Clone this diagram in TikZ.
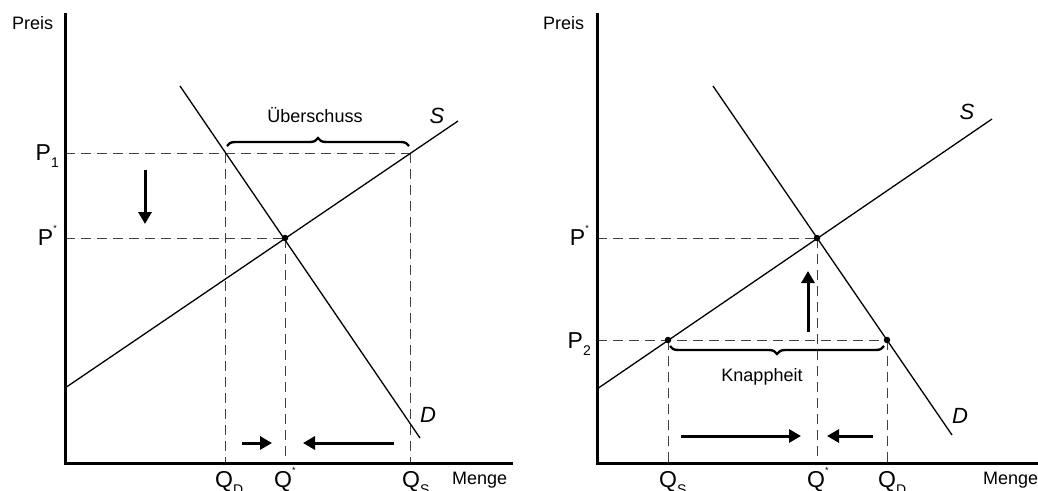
\documentclass[tikz,border=0pt]{standalone}
\usepackage{fontspec}
\setmainfont{Liberation Sans}
\usetikzlibrary{arrows.meta,decorations.pathreplacing}
\newcommand{\lowsub}[1]{\raisebox{-0.6ex}{\fontsize{14}{14}\selectfont #1}}
\newcommand{\starsup}{\raisebox{1.1ex}{\fontsize{9}{9}\selectfont *}}
\tikzset{
  axis/.style={line width=3pt},
  curve/.style={line width=1.3pt},
  guide/.style={line width=1pt, black!75, dash pattern=on 10pt off 6pt},
  bigarrow/.style={line width=3pt, -{Triangle[length=12pt,width=13pt]}},
  bracestyle/.style={line width=2.4pt, decorate, decoration={brace, amplitude=8pt}},
  dot/.style={circle, fill=black, inner sep=0pt, minimum size=6.5pt},
  lbl/.style={inner sep=0pt, font=\fontsize{18}{20}\selectfont},
  biglbl/.style={inner sep=0pt, font=\fontsize{23}{26}\selectfont},
  curvelbl/.style={inner sep=0pt, font=\fontsize{22}{24}\selectfont\itshape}
}
\begin{document}
\begin{tikzpicture}[x=1pt,y=-1pt]
\useasboundingbox (0,0) rectangle (1038,490);
% ---------- left panel ----------
\coordinate (LO) at (65,463);
\coordinate (Ltop) at (65,13);
\coordinate (Lxend) at (513,463);
\coordinate (Ls1) at (65,388);
\coordinate (Ls2) at (458,121);
\coordinate (Ld1) at (180,86);
\coordinate (Ld2) at (420,438);
\coordinate (LP1) at (65,153);
\coordinate (LPs) at (65,238);
\coordinate (LA) at (225,153);
\coordinate (LB) at (410,153);
\coordinate (LE) at (285,238);
\coordinate (LQd) at (225,463);
\coordinate (LQs) at (285,463);
\coordinate (LQS) at (410,463);
\draw[guide] (LP1) -- (LB);
\draw[guide] (LPs) -- (LE);
\draw[guide] (LA) -- (LQd);
\draw[guide] (LE) -- (LQs);
\draw[guide] (LB) -- (LQS);
\draw[curve] (Ls1) -- (Ls2);
\draw[curve] (Ld1) -- (Ld2);
\draw[axis] (Ltop) -- (LO) -- (Lxend);
\node[dot] (LEdot) at (LE) {};
\coordinate (Lb1) at (227,146);
\coordinate (Lb2) at (409,146);
\draw[bracestyle] (Lb1) -- (Lb2);
\node[lbl, anchor=base] (Lueb) at (315,122) {Überschuss};
\node[curvelbl, anchor=base] (LSl) at (437,123) {S};
\node[curvelbl, anchor=base] (LDl) at (428,422) {D};
\node[lbl, anchor=base west] (Lpreis) at (12,29) {Preis};
\node[biglbl, anchor=base east] (LP1l) at (59,160) {P\lowsub{1}};
\node[biglbl, anchor=base east] (LPsl) at (57,245) {P\starsup};
\node[biglbl, anchor=base west] (LQdl) at (215,487) {Q\lowsub{D}};
\node[biglbl, anchor=base west] (LQsl) at (274,487) {Q\starsup};
\node[biglbl, anchor=base west] (LQSl) at (402,487) {Q\lowsub{S}};
\node[lbl, anchor=base west] (Lmenge) at (452,484) {Menge};
\coordinate (Lda1) at (145,170);
\coordinate (Lda2) at (145,224);
\draw[bigarrow] (Lda1) -- (Lda2);
\coordinate (Lra1) at (242,443);
\coordinate (Lra2) at (272,443);
\draw[bigarrow] (Lra1) -- (Lra2);
\coordinate (Lla1) at (394,443);
\coordinate (Lla2) at (303,443);
\draw[bigarrow] (Lla1) -- (Lla2);
% ---------- right panel ----------
\coordinate (RO) at (597,463);
\coordinate (Rtop) at (597,13);
\coordinate (Rxend) at (1040,463);
\coordinate (Rs1) at (597,389);
\coordinate (Rs2) at (992,119);
\coordinate (Rd1) at (713,86);
\coordinate (Rd2) at (952,435);
\coordinate (RPs) at (597,238);
\coordinate (RP2) at (597,340);
\coordinate (RA) at (668,340);
\coordinate (RE) at (817,238);
\coordinate (RB) at (887,340);
\coordinate (RQS) at (668,463);
\coordinate (RQs) at (817,463);
\coordinate (RQD) at (887,463);
\draw[guide] (RPs) -- (RE);
\draw[guide] (RP2) -- (RB);
\draw[guide] (RA) -- (RQS);
\draw[guide] (RE) -- (RQs);
\draw[guide] (RB) -- (RQD);
\draw[curve] (Rs1) -- (Rs2);
\draw[curve] (Rd1) -- (Rd2);
\draw[axis] (Rtop) -- (RO) -- (Rxend);
\node[dot] (RAdot) at (RA) {};
\node[dot] (REdot) at (RE) {};
\node[dot] (RBdot) at (RB) {};
\coordinate (Rb1) at (884,346);
\coordinate (Rb2) at (670,346);
\draw[bracestyle] (Rb1) -- (Rb2);
\node[lbl, anchor=base] (Rknapp) at (762,381) {Knappheit};
\node[curvelbl, anchor=base] (RSl) at (967,119) {S};
\node[curvelbl, anchor=base] (RDl) at (960,423) {D};
\node[lbl, anchor=base west] (Rpreis) at (543,29) {Preis};
\node[biglbl, anchor=base east] (RPsl) at (589,245) {P\starsup};
\node[biglbl, anchor=base east] (RP2l) at (591,348) {P\lowsub{2}};
\node[biglbl, anchor=base west] (RQSl) at (659,487) {Q\lowsub{S}};
\node[biglbl, anchor=base west] (RQsl) at (807,487) {Q\starsup};
\node[biglbl, anchor=base west] (RQDl) at (878,487) {Q\lowsub{D}};
\node[lbl, anchor=base west] (Rmenge) at (983,484) {Menge};
\coordinate (Rua1) at (808,332);
\coordinate (Rua2) at (808,271);
\draw[bigarrow] (Rua1) -- (Rua2);
\coordinate (Rra1) at (681,436);
\coordinate (Rra2) at (801,436);
\draw[bigarrow] (Rra1) -- (Rra2);
\coordinate (Rla1) at (873,436);
\coordinate (Rla2) at (827,436);
\draw[bigarrow] (Rla1) -- (Rla2);
\end{tikzpicture}
\end{document}
